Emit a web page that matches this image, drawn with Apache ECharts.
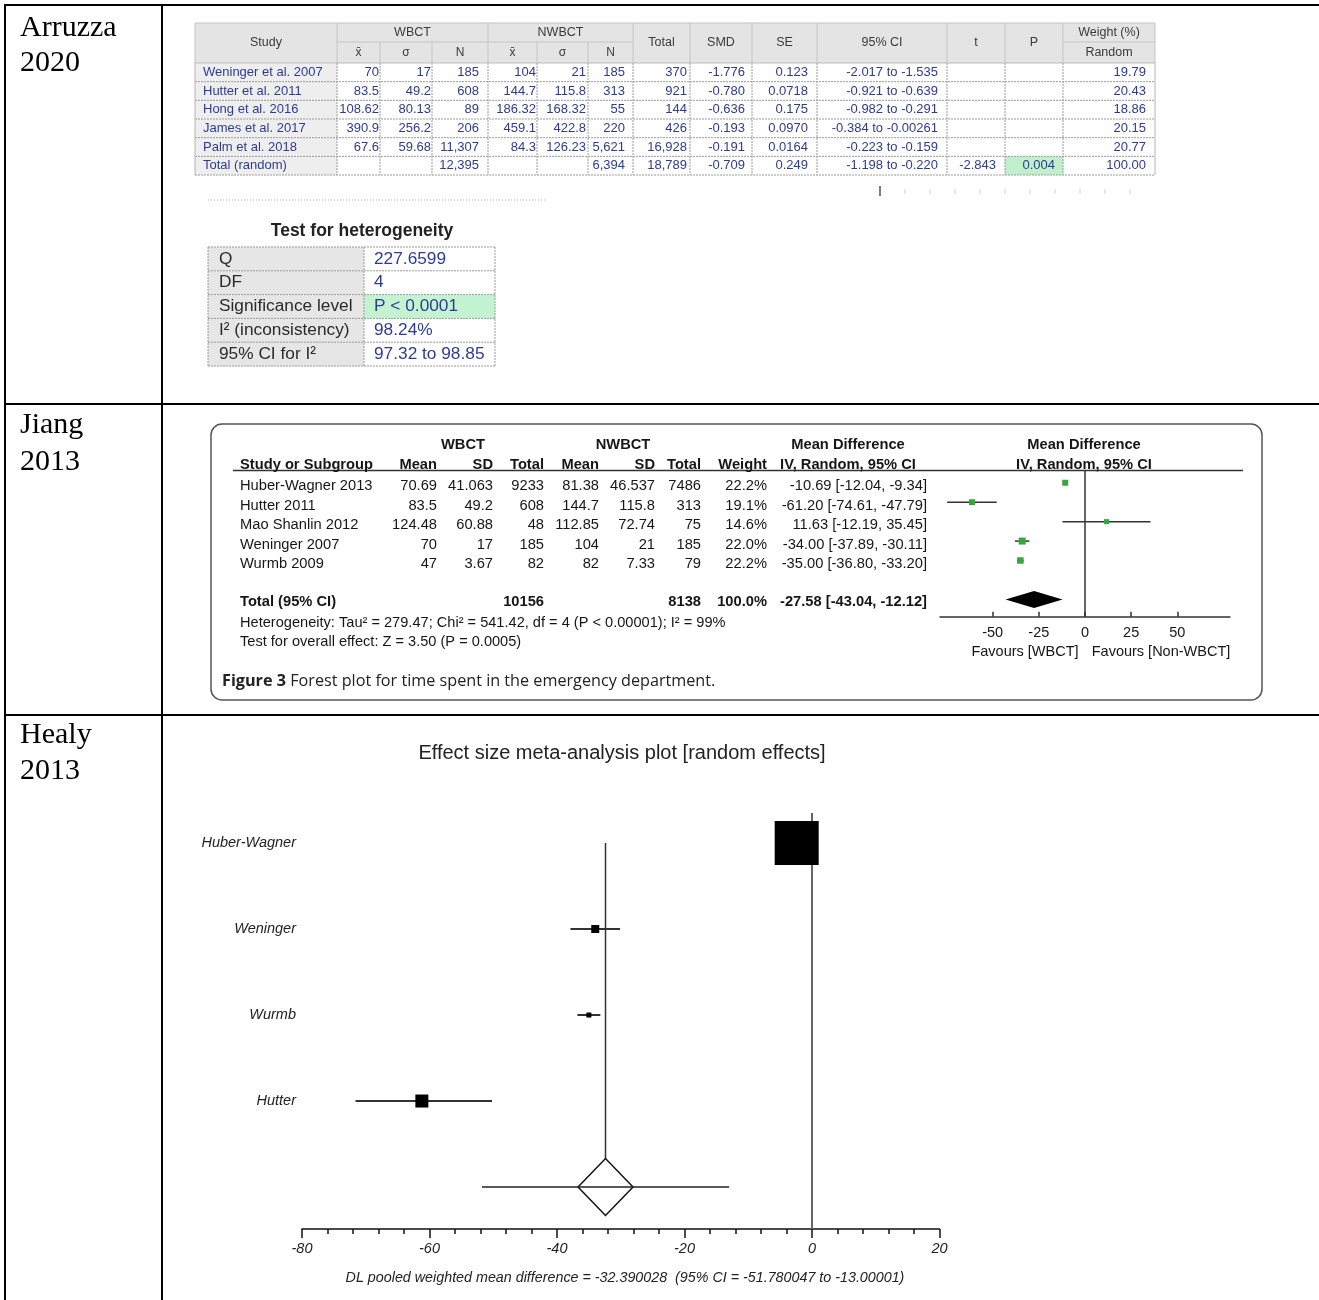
<!DOCTYPE html>
<html>
<head>
<meta charset="utf-8">
<script src="https://cdn.jsdelivr.net/npm/echarts@6/dist/echarts.min.js"></script>
<style>
  html, body { margin: 0; padding: 0; background: #fff; }
  #main { width: 1319px; height: 1300px; }
</style>
</head>
<body>
<div id="main"></div>
<script>
// ---- Arruzza 2020 (MedCalc table) ----
const arStudies = ['Weninger et al. 2007', 'Hutter et al. 2011', 'Hong et al. 2016', 'James et al. 2017', 'Palm et al. 2018', 'Total (random)'];
const arWbctMean = ['70', '83.5', '108.62', '390.9', '67.6', ''];
const arWbctSd = ['17', '49.2', '80.13', '256.2', '59.68', ''];
const arWbctN = ['185', '608', '89', '206', '11,307', '12,395'];
const arNwMean = ['104', '144.7', '186.32', '459.1', '84.3', ''];
const arNwSd = ['21', '115.8', '168.32', '422.8', '126.23', ''];
const arNwN = ['185', '313', '55', '220', '5,621', '6,394'];
const arTotal = ['370', '921', '144', '426', '16,928', '18,789'];
const arSmd = ['-1.776', '-0.780', '-0.636', '-0.193', '-0.191', '-0.709'];
const arSe = ['0.123', '0.0718', '0.175', '0.0970', '0.0164', '0.249'];
const arCi = ['-2.017 to -1.535', '-0.921 to -0.639', '-0.982 to -0.291', '-0.384 to -0.00261', '-0.223 to -0.159', '-1.198 to -0.220'];
const arT = ['', '', '', '', '', '-2.843'];
const arP = ['', '', '', '', '', '0.004'];
const arWeight = ['19.79', '20.43', '18.86', '20.15', '20.77', '100.00'];

const hetLabels = ['Q', 'DF', 'Significance level', 'I² (inconsistency)', '95% CI for I²'];
const hetValues = ['227.6599', '4', 'P < 0.0001', '98.24%', '97.32 to 98.85'];

// ---- Jiang 2013 (RevMan forest plot) ----
const jStudies = ['Huber-Wagner 2013', 'Hutter 2011', 'Mao Shanlin 2012', 'Weninger 2007', 'Wurmb 2009'];
const jWMean = [70.69, 83.5, 124.48, 70, 47];
const jWSd = [41.063, 49.2, 60.88, 17, 3.67];
const jWN = [9233, 608, 48, 185, 82];
const jNMean = [81.38, 144.7, 112.85, 104, 82];
const jNSd = [46.537, 115.8, 72.74, 21, 7.33];
const jNN = [7486, 313, 75, 185, 79];
const jWeight = [22.2, 19.1, 14.6, 22.0, 22.2];
const jMd = [-10.69, -61.20, 11.63, -34.00, -35.00];
const jLo = [-12.04, -74.61, -12.19, -37.89, -36.80];
const jHi = [-9.34, -47.79, 35.45, -30.11, -33.20];
const jPooled = [-27.58, -43.04, -12.12];
const jTotals = [10156, 8138];
const jTicks = [-50, -25, 0, 25, 50];

// ---- Healy 2013 ----
const hStudies = ['Huber-Wagner', 'Weninger', 'Wurmb', 'Hutter'];
const hMd = [-2.4, -34.0, -35.0, -61.2];
const hLo = [-3.6, -37.89, -36.8, -71.6];
const hHi = [-1.2, -30.11, -33.2, -50.2];
const hPooled = [-32.390028, -51.780047, -13.00001];

// box sizes in px (styling)
const jBoxPx = [6, 6, 5, 7, 6.5];
const hBoxPx = [44, 8, 5, 13];

const SANS = "'Liberation Sans', Arial, sans-serif";
const SERIF = "'Liberation Serif', 'Times New Roman', serif";
const CAPTION = "'Open Sans', 'Noto Sans', sans-serif";
const gfx = [];

function text(x, y, s, o) {
  o = o || {};
  gfx.push({
    type: 'text', x: x, y: y, silent: true, z: 20,
    style: {
      text: s, fill: o.color || '#111', fontSize: o.size || 13, fontFamily: o.family || SANS,
      fontWeight: o.bold ? 'bold' : 'normal', fontStyle: o.italic ? 'italic' : 'normal',
      align: o.align || 'left', verticalAlign: 'middle', rich: o.rich
    }
  });
}
function line(x1, y1, x2, y2, color, width, dash) {
  gfx.push({
    type: 'line', silent: true, z: 10, shape: { x1: x1, y1: y1, x2: x2, y2: y2 },
    style: { stroke: color, lineWidth: width || 1, lineDash: dash || null }
  });
}
function rect(x, y, w, h, fill, z) {
  gfx.push({ type: 'rect', silent: true, z: z || 1, shape: { x: x, y: y, width: w, height: h }, style: { fill: fill } });
}

// document frame
line(5, 4, 5, 1300, '#000', 2);
line(162, 4, 162, 1300, '#000', 2);
line(4, 5, 1319, 5, '#000', 2);
line(4, 404, 1319, 404, '#000', 2);
line(4, 715, 1319, 715, '#000', 2);
text(20, 28, 'Arruzza', { family: SERIF, size: 30, color: '#000' });
text(20, 63, '2020', { family: SERIF, size: 30, color: '#000' });
text(20, 425, 'Jiang', { family: SERIF, size: 30, color: '#000' });
text(20, 462, '2013', { family: SERIF, size: 30, color: '#000' });
text(20, 735, 'Healy', { family: SERIF, size: 30, color: '#000' });
text(20, 771, '2013', { family: SERIF, size: 30, color: '#000' });

// ---- Arruzza table ----
const arCols = [195, 337, 380, 432, 488, 537, 588, 633, 690, 752, 817, 947, 1005, 1063, 1155];
const arPad = [1, 1, 9, 1, 2, 8, 3, 7, 9, 9, 9, 8, 9];
const arTop = 23, arMidY = 42, arHeadY = 63, arRowH = 18.67;
const arBottom = arHeadY + arRowH * arStudies.length;
const arValues = [arWbctMean, arWbctSd, arWbctN, arNwMean, arNwSd, arNwN, arTotal, arSmd, arSe, arCi, arT, arP, arWeight];
const AR_BLUE = '#2d3b8f', AR_HEAD = '#3a3a3a';

rect(arCols[0], arTop, arCols[14] - arCols[0], arHeadY - arTop, '#e4e4e4');
rect(arCols[0], arHeadY, arCols[1] - arCols[0], arBottom - arHeadY, '#eeeeee');
rect(arCols[12], arHeadY + arRowH * 5, arCols[13] - arCols[12], arRowH, '#bff0cb', 2);
line(arCols[1], arMidY, arCols[7], arMidY, '#c4c4c4', 1);
line(arCols[13], arMidY, arCols[14], arMidY, '#c4c4c4', 1);
line(arCols[0], arHeadY, arCols[14], arHeadY, '#bdbdbd', 1);
for (let i = 1; i < arStudies.length; i++) {
  line(arCols[0], arHeadY + arRowH * i, arCols[14], arHeadY + arRowH * i, '#9a9a9a', 1, [2, 1]);
}
arCols.forEach(function (x, k) {
  const sub = [2, 3, 5, 6].indexOf(k) >= 0;
  line(x, sub ? arMidY : arTop, x, arHeadY, '#c4c4c4', 1);
  line(x, arHeadY, x, arBottom, (k === 0 || k === 14) ? '#b5b5b5' : '#9a9a9a', 1, (k === 0 || k === 14) ? null : [2, 1]);
});
line(arCols[0], arTop, arCols[14], arTop, '#c4c4c4', 1);
line(arCols[0], arBottom, arCols[14], arBottom, '#9a9a9a', 1, [2, 1]);

const hc = function (a, b) { return (arCols[a] + arCols[b]) / 2; };
text(hc(0, 1), 43, 'Study', { align: 'center', size: 12.5, color: AR_HEAD });
text(hc(1, 4), 33, 'WBCT', { align: 'center', size: 12.5, color: AR_HEAD });
text(hc(4, 7), 33, 'NWBCT', { align: 'center', size: 12.5, color: AR_HEAD });
['x\u0304', 'σ', 'N', 'x\u0304', 'σ', 'N'].forEach(function (s, k) {
  text(hc(k + 1, k + 2), 53, s, { align: 'center', size: 12, color: AR_HEAD });
});
['Total', 'SMD', 'SE', '95% CI', 't', 'P'].forEach(function (s, k) {
  text(hc(k + 7, k + 8), 43, s, { align: 'center', size: 12.5, color: AR_HEAD });
});
text(hc(13, 14), 33, 'Weight (%)', { align: 'center', size: 12.5, color: AR_HEAD });
text(hc(13, 14), 53, 'Random', { align: 'center', size: 12.5, color: AR_HEAD });

arStudies.forEach(function (s, i) {
  const y = arHeadY + arRowH * (i + 0.5);
  text(arCols[0] + 8, y, s, { size: 13, color: AR_BLUE });
  arValues.forEach(function (col, k) {
    if (col[i]) text(arCols[k + 2] - arPad[k], y, col[i], { align: 'right', size: 13, color: AR_BLUE });
  });
});

// scan remnants under the table
line(208, 200, 545, 200, '#b0b0b0', 1, [1, 2]);
line(880, 186, 880, 196, '#555', 1.5);
for (let x = 905; x <= 1130; x += 25) line(x, 189, x, 194, '#d0d0d0', 1);

// heterogeneity table
const hetL = 208, hetM = 364, hetR = 495, hetTop = 247, hetRowH = 23.8;
text(362, 231, 'Test for heterogeneity', { align: 'center', size: 17.5, bold: true, color: '#222' });
rect(hetL, hetTop, hetM - hetL, hetRowH * hetLabels.length, '#e6e6e6');
rect(hetM, hetTop + hetRowH * 2, hetR - hetM, hetRowH, '#c4f3d2', 2);
for (let i = 0; i <= hetLabels.length; i++) {
  line(hetL, hetTop + hetRowH * i, hetR, hetTop + hetRowH * i, '#9a9a9a', 1, [2, 1]);
}
[hetL, hetM, hetR].forEach(function (x) { line(x, hetTop, x, hetTop + hetRowH * hetLabels.length, '#9a9a9a', 1, [2, 1]); });
hetLabels.forEach(function (s, i) {
  const y = hetTop + hetRowH * (i + 0.5);
  text(hetL + 11, y, s, { size: 17.3, color: '#2a2a2a' });
  text(hetM + 10, y, hetValues[i], { size: 17.3, color: '#2e3c96' });
});

// ---- Jiang table ----
gfx.push({
  type: 'rect', silent: true, z: 1,
  shape: { x: 211, y: 424, width: 1051, height: 276, r: 11 },
  style: { fill: 'none', stroke: '#555', lineWidth: 1.5 }
});
const J = '#161616', JS = 14.7;
text(463, 445, 'WBCT', { align: 'center', size: JS, bold: true, color: J });
text(623, 445, 'NWBCT', { align: 'center', size: JS, bold: true, color: J });
text(848, 445, 'Mean Difference', { align: 'center', size: JS, bold: true, color: J });
text(1084, 445, 'Mean Difference', { align: 'center', size: JS, bold: true, color: J });
text(240, 465, 'Study or Subgroup', { size: JS, bold: true, color: J });
const jRight = [437, 493, 544, 599, 655, 701, 767, 927];
['Mean', 'SD', 'Total', 'Mean', 'SD', 'Total', 'Weight'].forEach(function (s, k) {
  text(jRight[k], 465, s, { align: 'right', size: JS, bold: true, color: J });
});
text(848, 465, 'IV, Random, 95% CI', { align: 'center', size: JS, bold: true, color: J });
text(1084, 465, 'IV, Random, 95% CI', { align: 'center', size: JS, bold: true, color: J });
line(233, 470.5, 1243, 470.5, '#333', 1.5);

const jRowY0 = 486, jRowStep = 19.6;
const fmt2 = function (v) { return v.toFixed(2); };
jStudies.forEach(function (s, i) {
  const y = jRowY0 + jRowStep * i;
  text(240, y, s, { size: JS, color: J });
  const cells = [jWMean[i], jWSd[i], jWN[i], jNMean[i], jNSd[i], jNN[i], jWeight[i].toFixed(1) + '%',
    fmt2(jMd[i]) + ' [' + fmt2(jLo[i]) + ', ' + fmt2(jHi[i]) + ']'];
  cells.forEach(function (c, k) { text(jRight[k], y, String(c), { align: 'right', size: JS, color: J }); });
});
const jTotY = 602;
text(240, jTotY, 'Total (95% CI)', { size: JS, bold: true, color: J });
text(jRight[2], jTotY, String(jTotals[0]), { align: 'right', size: JS, bold: true, color: J });
text(jRight[5], jTotY, String(jTotals[1]), { align: 'right', size: JS, bold: true, color: J });
text(jRight[6], jTotY, '100.0%', { align: 'right', size: JS, bold: true, color: J });
text(jRight[7], jTotY, fmt2(jPooled[0]) + ' [' + fmt2(jPooled[1]) + ', ' + fmt2(jPooled[2]) + ']', { align: 'right', size: JS, bold: true, color: J });
text(240, 622.5, 'Heterogeneity: Tau² = 279.47; Chi² = 541.42, df = 4 (P < 0.00001); I² = 99%', { size: 14.6, color: J });
text(240, 641.5, 'Test for overall effect: Z = 3.50 (P = 0.0005)', { size: 14.6, color: J });
text(1025, 652, 'Favours [WBCT]', { align: 'center', size: 14.5, color: J });
text(1161, 652, 'Favours [Non-WBCT]', { align: 'center', size: 14.5, color: J });
text(222, 681, '{b|Figure 3} Forest plot for time spent in the emergency department.', {
  size: 16.2, family: CAPTION, color: '#222',
  rich: { b: { fontWeight: 'bold', fontSize: 16.2, fontFamily: CAPTION, fill: '#222' } }
});

// ---- Healy texts ----
text(622, 753, 'Effect size meta-analysis plot [random effects]', { align: 'center', size: 20, color: '#222' });
text(625, 1278, 'DL pooled weighted mean difference = -32.390028  (95% CI = -51.780047 to -13.00001)', {
  align: 'center', size: 14.3, italic: true, color: '#222'
});

// ---- series helpers ----
function studyRender(fill, stroke, width) {
  return function (params, api) {
    const row = api.value(3);
    const c = api.coord([api.value(0), row]);
    const a = api.coord([api.value(1), row]);
    const b = api.coord([api.value(2), row]);
    const s = api.value(4);
    return {
      type: 'group', children: [
        { type: 'line', shape: { x1: a[0], y1: a[1], x2: b[0], y2: b[1] }, style: { stroke: stroke, lineWidth: width } },
        { type: 'rect', shape: { x: c[0] - s / 2, y: c[1] - s / 2, width: s, height: s }, style: { fill: fill } }
      ]
    };
  };
}
function zeroRender(color, width) {
  return function (params, api) {
    const cs = params.coordSys;
    const p = api.coord([api.value(0), 1]);
    return { type: 'line', shape: { x1: p[0], y1: cs.y, x2: p[0], y2: cs.y + cs.height }, style: { stroke: color, lineWidth: width } };
  };
}

const jData = jMd.map(function (m, i) { return [m, jLo[i], jHi[i], i + 1, jBoxPx[i]]; });
const jTotalRow = jStudies.length + 2;
const hData = hMd.map(function (m, i) { return [m, hLo[i], hHi[i], i + 1, hBoxPx[i]]; });
const hTotalRow = hStudies.length + 1;

const chart = echarts.init(document.getElementById('main'), null, { renderer: 'canvas' });
chart.setOption({
  animation: false,
  backgroundColor: '#fff',
  graphic: gfx,
  grid: [
    { left: 940, top: 470.5, width: 290, height: 146.2, outerBoundsMode: 'none' },
    { left: 302, top: 813, width: 637.5, height: 416, outerBoundsMode: 'none' }
  ],
  xAxis: [
    {
      gridIndex: 0, type: 'value', min: -78.5, max: 78.5,
      axisLine: { lineStyle: { color: '#333', width: 1.5 } },
      axisTick: { inside: true, length: 5, customValues: jTicks, lineStyle: { color: '#333', width: 1.5 } },
      axisLabel: { customValues: jTicks, margin: 9, fontSize: 14.5, color: '#161616', fontFamily: SANS },
      splitLine: { show: false }
    },
    {
      gridIndex: 1, type: 'value', min: -80, max: 20, interval: 20,
      axisLine: { lineStyle: { color: '#111', width: 1.5 } },
      axisTick: { length: 9, lineStyle: { color: '#111', width: 1.5 } },
      minorTick: { show: true, splitNumber: 5, length: 5, lineStyle: { color: '#111', width: 1.5 } },
      axisLabel: { margin: 12, fontSize: 14.5, fontStyle: 'italic', color: '#222', fontFamily: SANS },
      splitLine: { show: false }, minorSplitLine: { show: false }
    }
  ],
  yAxis: [
    { gridIndex: 0, type: 'value', inverse: true, min: 0.37, max: 7.89, show: false },
    {
      gridIndex: 1, type: 'value', inverse: true, min: 0.651, max: 5.488,
      axisLine: { show: false }, axisTick: { show: false }, splitLine: { show: false },
      axisLabel: {
        customValues: [1, 2, 3, 4], margin: 6, fontSize: 14.5, fontStyle: 'italic', color: '#222', fontFamily: SANS,
        formatter: function (v) { return hStudies[Math.round(v) - 1] || ''; }
      }
    }
  ],
  series: [
    {
      type: 'custom', xAxisIndex: 0, yAxisIndex: 0, clip: false, silent: true,
      renderItem: zeroRender('#333', 1.5), data: [[0]]
    },
    {
      type: 'custom', xAxisIndex: 0, yAxisIndex: 0, clip: false, silent: true,
      renderItem: studyRender('#35a83a', '#333', 1.5), data: jData
    },
    {
      type: 'custom', xAxisIndex: 0, yAxisIndex: 0, clip: false, silent: true,
      renderItem: function (params, api) {
        const row = api.value(3);
        const c = api.coord([api.value(0), row]);
        const a = api.coord([api.value(1), row]);
        const b = api.coord([api.value(2), row]);
        return {
          type: 'polygon',
          shape: { points: [[a[0], c[1]], [c[0], c[1] - 8.5], [b[0], c[1]], [c[0], c[1] + 8.5]] },
          style: { fill: '#000' }
        };
      },
      data: [[jPooled[0], jPooled[1], jPooled[2], jTotalRow]]
    },
    {
      type: 'custom', xAxisIndex: 1, yAxisIndex: 1, clip: false, silent: true,
      renderItem: zeroRender('#666', 2), data: [[0]]
    },
    {
      type: 'custom', xAxisIndex: 1, yAxisIndex: 1, clip: false, silent: true,
      renderItem: studyRender('#000', '#333', 2), data: hData
    },
    {
      type: 'custom', xAxisIndex: 1, yAxisIndex: 1, clip: false, silent: true,
      renderItem: function (params, api) {
        const row = api.value(3);
        const c = api.coord([api.value(0), row]);
        const top = api.coord([api.value(0), 1]);
        const a = api.coord([api.value(1), row]);
        const b = api.coord([api.value(2), row]);
        return {
          type: 'group', children: [
            { type: 'line', shape: { x1: c[0], y1: top[1], x2: c[0], y2: c[1] }, style: { stroke: '#333', lineWidth: 1.5 } },
            { type: 'polygon', shape: { points: [[c[0] - 27.5, c[1]], [c[0], c[1] - 28.5], [c[0] + 27.5, c[1]], [c[0], c[1] + 28.5]] }, style: { fill: '#fff', stroke: '#111', lineWidth: 1.5 } },
            { type: 'line', shape: { x1: a[0], y1: c[1], x2: b[0], y2: c[1] }, style: { stroke: '#222', lineWidth: 1.5 } }
          ]
        };
      },
      data: [[hPooled[0], hPooled[1], hPooled[2], hTotalRow]]
    }
  ]
});
</script>
</body>
</html>
